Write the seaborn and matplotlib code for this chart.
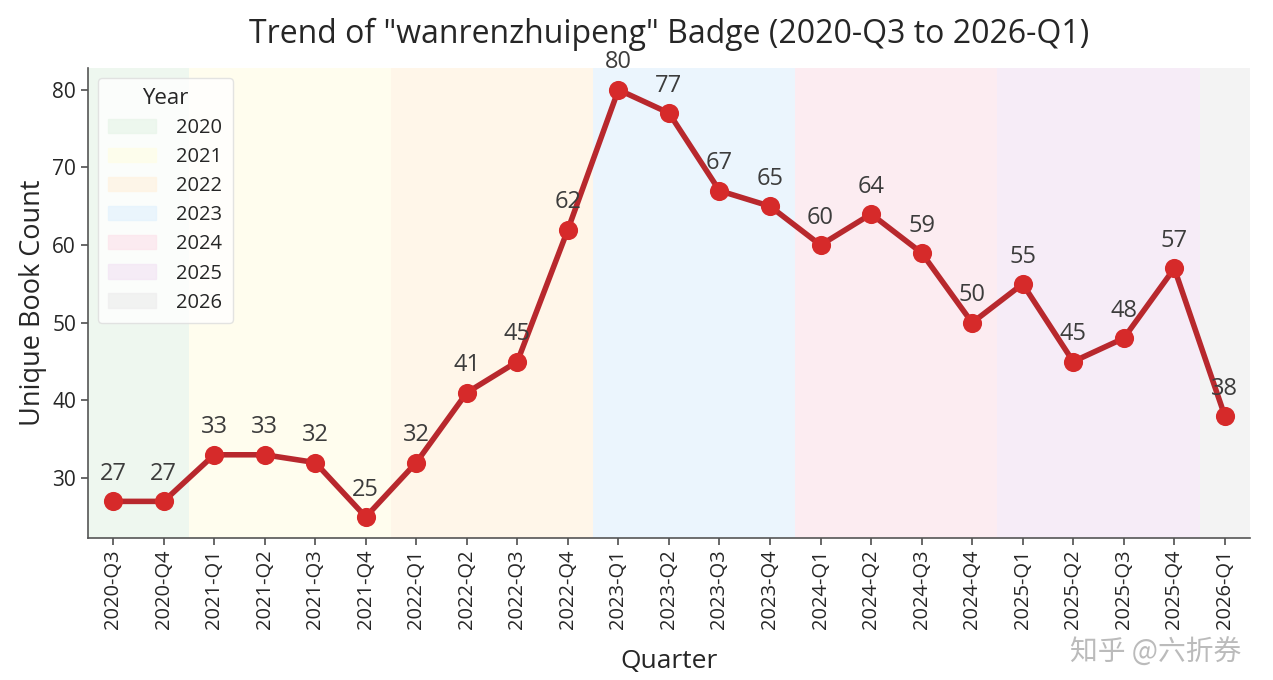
import matplotlib
matplotlib.use("Agg")
import matplotlib.pyplot as plt
import matplotlib.patches as mpatches
import seaborn as sns
import pandas as pd

# data
quarters = ["2020-Q3", "2020-Q4",
            "2021-Q1", "2021-Q2", "2021-Q3", "2021-Q4",
            "2022-Q1", "2022-Q2", "2022-Q3", "2022-Q4",
            "2023-Q1", "2023-Q2", "2023-Q3", "2023-Q4",
            "2024-Q1", "2024-Q2", "2024-Q3", "2024-Q4",
            "2025-Q1", "2025-Q2", "2025-Q3", "2025-Q4",
            "2026-Q1"]
book_counts = [27, 27, 33, 33, 32, 25, 32, 41, 45, 62, 80, 77, 67, 65,
               60, 64, 59, 50, 55, 45, 48, 57, 38]
years = ["2020", "2021", "2022", "2023", "2024", "2025", "2026"]
year_colors = ["#e8f5e9", "#fffde7", "#fff3e0", "#e3f2fd",
               "#fce4ec", "#f3e5f5", "#eeeeee"]

df = pd.DataFrame({"Quarter": quarters, "Count": book_counts})
df["Year"] = df["Quarter"].str[:4]
df["x"] = range(len(df))

sns.set_theme(style="white")
plt.rcParams["font.family"] = ["Open Sans", "Noto Sans CJK SC", "DejaVu Sans"]

fig = plt.figure(figsize=(12.73, 6.8), dpi=100)
ax = fig.add_axes([0.069, 0.209, 0.913, 0.691])

# background band for each year
handles = []
for yr, col in zip(years, year_colors):
    xs = df.loc[df["Year"] == yr, "x"]
    ax.axvspan(xs.min() - 0.5, xs.max() + 0.5, color=col, alpha=0.7, lw=0, zorder=0)
    handles.append(mpatches.Patch(color=col, alpha=0.7, label=yr))

sns.lineplot(data=df, x="x", y="Count", color="#b8282d", lw=4, ax=ax, zorder=3)
sns.scatterplot(data=df, x="x", y="Count", color="#d62a2a", s=190, linewidth=0,
                ax=ax, zorder=4)

for xi, v in zip(df["x"], df["Count"]):
    ax.annotate(str(v), (xi, v), xytext=(0, 11), textcoords="offset points",
                ha="center", va="bottom", fontsize=17, color="#3c3c3c")

ax.set_xlim(-0.5, len(df) - 0.5)
ax.set_ylim(22.3, 82.8)
ax.set_yticks([30, 40, 50, 60, 70, 80])
ax.set_xticks(df["x"])
ax.set_xticklabels(quarters, rotation=90, fontsize=14.5)
ax.tick_params(axis="y", labelsize=15, left=True, length=5, color="#555555")
ax.tick_params(axis="x", bottom=True, length=5, color="#555555")
ax.set_xlabel("Quarter", fontsize=19, labelpad=14)
ax.set_ylabel("Unique Book Count", fontsize=19.5)
ax.set_title('Trend of "wanrenzhuipeng" Badge (2020-Q3 to 2026-Q1)', fontsize=23, pad=18)
sns.despine(ax=ax)
for s in ["left", "bottom"]:
    ax.spines[s].set_color("#555555")
    ax.spines[s].set_linewidth(1.2)

leg = ax.legend(handles=handles, title="Year", loc="upper left", fontsize=14.5,
                title_fontsize=16, frameon=True, handlelength=2.4,
                handletextpad=1.0, borderpad=0.5, labelspacing=0.45)
leg.get_frame().set_edgecolor("#dddddd")

# watermark
fig.text(0.975, 0.04, "知乎 @六折券", ha="right", va="center", fontsize=20,
         color="#bbbbbb", family=["Noto Sans CJK SC", "DejaVu Sans"])

fig.savefig("out.png", dpi=100)
